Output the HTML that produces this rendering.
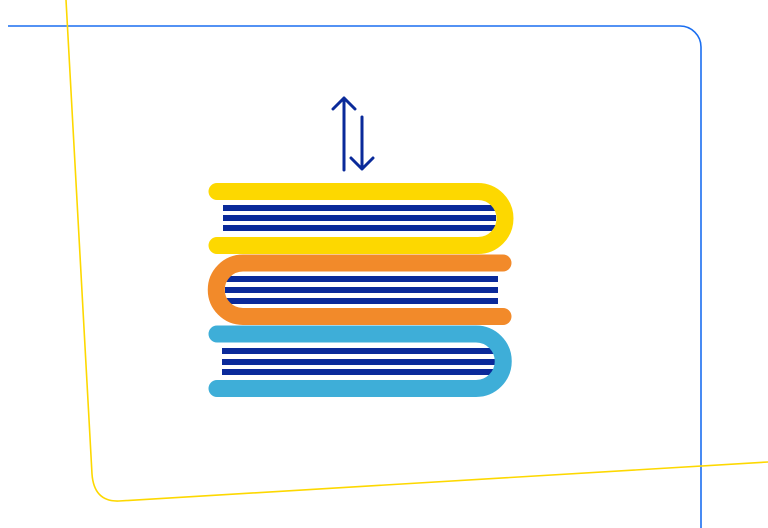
<!DOCTYPE html>
<html><head><meta charset="utf-8"><style>html,body{margin:0;padding:0;background:#fff}svg{display:block}</style></head>
<body>
<svg width="768" height="528" viewBox="0 0 768 528" xmlns="http://www.w3.org/2000/svg">
<path d="M8,26 H680 A21,21 0 0 1 701,47 V528" fill="none" stroke="#1a6ef0" stroke-width="1.6"/>
<path d="M66,0 L92,474 Q94,502 119,501 L768,462" fill="none" stroke="#fdd800" stroke-width="1.6"/>
<g stroke="#0a2a9a" stroke-width="3" fill="none" stroke-linecap="round" stroke-linejoin="round">
<path d="M344,170 V98 M333,109 L344,98 L355,109"/>
<path d="M362,117 V169 M351,158 L362,169 L373,158"/>
</g>
<g fill="#0a2a9a">
<rect x="223" y="205" width="273" height="6"/><rect x="223" y="215" width="273" height="6"/><rect x="223" y="225" width="273" height="6"/>
<rect x="225" y="276" width="273" height="6"/><rect x="225" y="287" width="273" height="6"/><rect x="225" y="298" width="273" height="6"/>
<rect x="222" y="348" width="273" height="6"/><rect x="222" y="359" width="273" height="6"/><rect x="222" y="369" width="273" height="6"/>
</g>
<g fill="none" stroke-width="17" stroke-linecap="round">
<path d="M217,191.5 H478 A27,27 0 0 1 478,245.5 H217" stroke="#fdd800"/>
<path d="M503,263 H243 A26.75,26.75 0 0 0 243,316.5 H503" stroke="#f28a2a"/>
<path d="M217,334 H476 A27.25,27.25 0 0 1 476,388.5 H217" stroke="#3eaed8"/>
</g>
</svg>
</body></html>
